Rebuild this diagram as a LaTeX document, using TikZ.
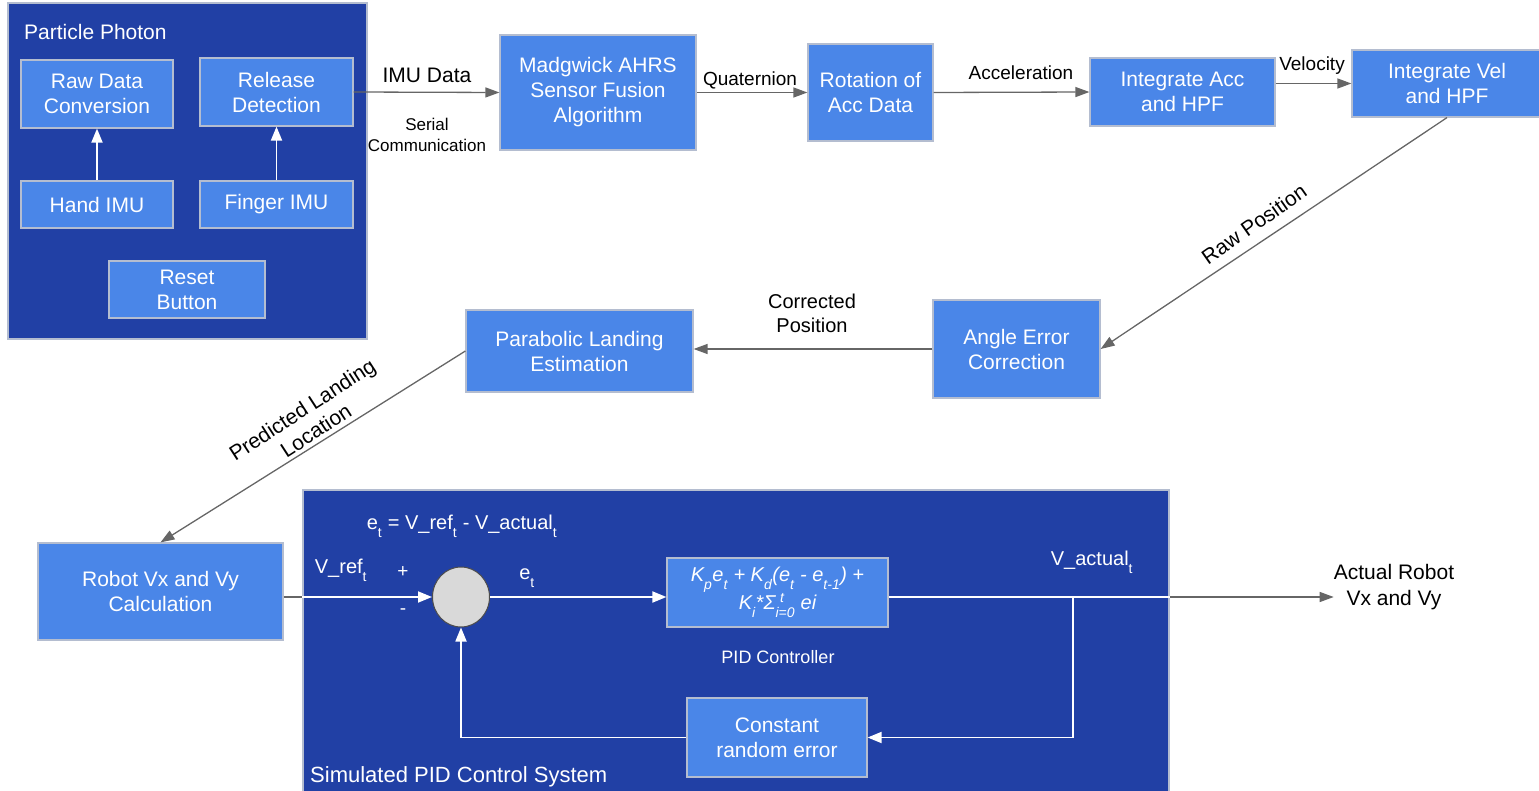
\documentclass[tikz,border=0pt]{standalone}
\usepackage{fontspec}
\setmainfont{Liberation Sans}
\usetikzlibrary{arrows.meta,shapes.geometric}
\definecolor{dblue}{HTML}{2140A5}
\definecolor{lblue}{HTML}{4A86E8}
\definecolor{bord}{HTML}{B4BDD0}
\definecolor{arr}{HTML}{666666}
\definecolor{circfill}{HTML}{D9D9D9}
\newcommand{\sbs}[1]{\raisebox{-0.45ex}{\textsubscript{#1}}}
\begin{document}
\begin{tikzpicture}[x=1pt,y=-1pt,
  panel/.style={fill=dblue, draw=bord, line width=1.2pt, inner sep=0pt},
  blk/.style={fill=lblue, draw=bord, line width=1.2pt, text=white, align=center,
    font=\fontsize{21}{25}\selectfont, inner sep=0pt},
  garrow/.style={draw=arr, line width=1.3pt, -{Triangle[length=14pt,width=10pt]}},
  gline/.style={draw=arr, line width=1.3pt},
  warrow/.style={draw=white, line width=1.8pt, -{Triangle[length=14pt,width=11pt]}},
  wline/.style={draw=white, line width=1.8pt},
  lbl/.style={font=\fontsize{19}{23}\selectfont, align=center, inner sep=0pt},
  wlbl/.style={lbl, text=white}]
\useasboundingbox (0,0) rectangle (1539,791);

% panels
\node[panel, minimum width=359pt, minimum height=336pt] (pp) at (187.5,171) {};
\node[panel, minimum width=866pt, minimum height=305pt] (pidp) at (736,642.5) {};
\node[wlbl, anchor=west, font=\fontsize{21}{25}\selectfont] (pptitle) at (24,32) {Particle Photon};
\node[wlbl, anchor=west, font=\fontsize{22}{26}\selectfont] (pidtitle) at (310,777) {Simulated PID Control System};

% particle photon blocks
\node[blk, minimum width=152pt, minimum height=68pt] (raw) at (97,94) {Raw Data\\Conversion};
\node[blk, minimum width=153pt, minimum height=68pt] (rel) at (276.5,92) {Release\\Detection};
\node[blk, minimum width=152pt, minimum height=47pt] (hand) at (97,204.5) {Hand IMU};
\node[blk, minimum width=153pt, minimum height=47pt] (finger) at (276.5,204.5) {Finger IMU};
\node[blk, minimum width=156pt, minimum height=57pt] (reset) at (187,289.5) {Reset\\Button};

% top chain
\node[blk, minimum width=196pt, minimum height=115pt] (mad) at (598,92.5) {Madgwick AHRS\\Sensor Fusion\\Algorithm};
\node[blk, minimum width=125pt, minimum height=97pt] (rot) at (870.5,92.5) {Rotation of\\Acc Data};
\node[blk, minimum width=185pt, minimum height=68pt] (iacc) at (1182.5,92) {Integrate Acc\\and HPF};
\node[blk, minimum width=190pt, minimum height=67pt] (ivel) at (1447,83.5) {Integrate Vel\\and HPF};

% middle
\node[blk, minimum width=167pt, minimum height=98pt] (ang) at (1016.5,349) {Angle Error\\Correction};
\node[blk, minimum width=227pt, minimum height=82pt] (para) at (579.5,351) {Parabolic Landing\\Estimation};
\node[blk, minimum width=245pt, minimum height=97pt] (robot) at (160.5,591.5) {Robot Vx and Vy\\Calculation};

% PID system
\node[ellipse, fill=circfill, draw=gray!60!black, line width=1pt, minimum width=57pt, minimum height=60pt, inner sep=0pt] (circ) at (461,597) {};
\node[blk, minimum width=221pt, minimum height=69pt, font=\fontsize{20}{23}\selectfont\itshape] (pidf) at (777.5,592.5)
  {K\sbs{p}e\sbs{t} + K\sbs{d}(e\sbs{t} - e\sbs{t-1}) +\\K\sbs{i}*Σ\rlap{\textsuperscript{\,\,t}}\sbs{i=0} ei};
\node[blk, minimum width=180pt, minimum height=79pt] (const) at (777,737.5) {Constant\\random error};

% labels
\node[lbl, font=\fontsize{21}{25}\selectfont] (limu) at (427,75) {IMU Data};
\node[lbl, font=\fontsize{17}{21}\selectfont] (lser) at (427,135) {Serial\\Communication};
\node[lbl] (lquat) at (750,80) {Quaternion};
\node[lbl] (lacc) at (1021,73) {Acceleration};
\node[lbl] (lvel) at (1312,66) {Velocity};
\node[lbl, font=\fontsize{21}{25}\selectfont, rotate=35] (lrawp) at (1254,224) {Raw Position};
\node[lbl, font=\fontsize{20}{24}\selectfont] (lcorr) at (812,313) {Corrected\\Position};
\node[lbl, font=\fontsize{21}{25}\selectfont, rotate=33] (lpred) at (309,420) {Predicted Landing\\Location};
\node[lbl, font=\fontsize{21}{26}\selectfont] (act) at (1394,587) {Actual Robot\\Vx and Vy};

\node[wlbl, font=\fontsize{20}{24}\selectfont] (leq) at (462,526) {e\sbs{t} = V\_ref\sbs{t} - V\_actual\sbs{t}};
\node[wlbl, font=\fontsize{20}{24}\selectfont] (lvref) at (341,570) {V\_ref\sbs{t}};
\node[wlbl] (lplus) at (403,572) {+};
\node[wlbl] (lminus) at (403,612) {-};
\node[wlbl, font=\fontsize{20}{24}\selectfont] (let) at (527,578) {e\sbs{t}};
\node[wlbl, font=\fontsize{18}{22}\selectfont] (lpid) at (778,657) {PID Controller};
\node[wlbl, font=\fontsize{20}{24}\selectfont] (lvact) at (1092,562) {V\_actual\sbs{t}};

% coordinates
\coordinate (pidin) at (pidp.west |- circ.west);
\coordinate (pidout) at (pidp.east |- circ.east);
\coordinate (br) at (1073,597);

% connectors
\draw[warrow] (hand.north) -- (raw.south);
\draw[warrow] (finger.north) -- (rel.south);
\draw[garrow] (rel.east) -- (mad.west);
\draw[garrow] (mad.east) -- (rot.west);
\draw[garrow] (rot.east) -- (iacc.west);
\draw[garrow] (iacc.east |- ivel.west) -- (ivel.west);
\draw[garrow] (ivel.south) -- (ang.east);
\draw[garrow] (ang.west) -- (para.east |- ang.west);
\draw[garrow] (para.west) -- (robot.north);
\draw[gline] (robot.east |- circ.west) -- (pidin);
\draw[warrow] (pidin) -- (circ.west);
\draw[warrow] (circ.east) -- (pidf.west |- circ.east);
\draw[wline] (pidf.east |- circ.east) -- (pidout);
\draw[garrow] (pidout) -- (act.west |- circ.east);
\draw[warrow] (br) |- (const.east);
\draw[warrow] (const.west) -| (circ.south);
\end{tikzpicture}
\end{document}
